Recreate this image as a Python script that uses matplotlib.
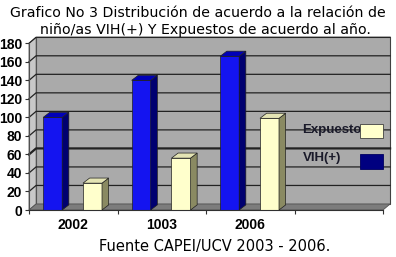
import matplotlib.pyplot as plt
from matplotlib.patches import Polygon, Rectangle

years = ["2002", "1003", "2006"]
vih = [100, 140, 166]
expuestos = [29, 56, 99]
y_ticks = [0, 20, 40, 60, 80, 100, 120, 140, 160, 180]
legend_labels = ["Expuestos", "VIH(+)"]

fig = plt.figure(figsize=(3.96, 2.57), dpi=100)
ax = fig.add_axes([29 / 396, 47 / 257, 354 / 396, 166.7 / 257])
ax.set_xlim(0, 4)
ax.set_ylim(0, 180)
ax.patch.set_visible(False)

# depth of the fake 3d box (data units)
dx, dy = 0.08, 6.5

# back wall, left wall, floor
ax.add_patch(Polygon([(dx, dy), (4 + dx, dy), (4 + dx, 180 + dy), (dx, 180 + dy)],
                     closed=True, facecolor="#aaaaaa", edgecolor="#404040", lw=0.8,
                     clip_on=False, zorder=0))
ax.add_patch(Polygon([(0, 0), (dx, dy), (dx, 180 + dy), (0, 180)],
                     closed=True, facecolor="#c8c8c8", edgecolor="#606060", lw=0.6,
                     clip_on=False, zorder=0.5))
ax.add_patch(Polygon([(0, 0), (4, 0), (4 + dx, dy), (dx, dy)],
                     closed=True, facecolor="#7c7c7c", edgecolor="#505050", lw=0.6,
                     clip_on=False, zorder=0.6))

for y in y_ticks[1:]:
    lw = 1.6 if y == 60 else 0.9
    ax.plot([0, dx, 4 + dx], [y, y + dy, y + dy], color="#222222", lw=lw,
            clip_on=False, zorder=1)

# bars with side and top faces
bw = 0.215
bdx, bdy = 0.075, 5.5
series = [(vih, 0.16, "#1414f0", "#000070", "#0000b8"),
          (expuestos, 0.61, "#ffffcc", "#8a8a62", "#e4e4b4")]
for vals, off, front, side, top in series:
    xs = [i + off for i in range(len(vals))]
    ax.bar(xs, vals, width=bw, align="edge", color=front, edgecolor="#202020",
           lw=0.5, zorder=3)
    for x, v in zip(xs, vals):
        ax.add_patch(Polygon([(x + bw, 0), (x + bw + bdx, bdy), (x + bw + bdx, v + bdy), (x + bw, v)],
                             closed=True, facecolor=side, edgecolor="#202020", lw=0.5,
                             clip_on=False, zorder=3))
        ax.add_patch(Polygon([(x, v), (x + bw, v), (x + bw + bdx, v + bdy), (x + bdx, v + bdy)],
                             closed=True, facecolor=top, edgecolor="#202020", lw=0.5,
                             clip_on=False, zorder=3))

for s in ["top", "right"]:
    ax.spines[s].set_visible(False)
ax.spines["left"].set_color("#505050")
ax.spines["bottom"].set_color("#303030")
ax.spines["left"].set_zorder(4)
ax.spines["bottom"].set_zorder(4)

tick_font = dict(family="Liberation Sans", weight="bold", size=10)
ax.set_yticks(y_ticks)
ax.set_yticklabels([str(v) for v in y_ticks], fontdict=tick_font)
ax.set_xticks([0, 1, 2, 3, 4])
ax.set_xticklabels([])
ax.set_xticks([0.5, 1.5, 2.5], minor=True)
ax.set_xticklabels(years, minor=True, fontdict=tick_font)
ax.tick_params(axis="x", which="minor", length=0, pad=6)
ax.tick_params(axis="both", which="major", length=3, width=0.8, color="#303030", pad=2)

# manual legend (text left aligned, boxes on top of text)
leg_font = dict(family="Liberation Sans", weight="bold", size=9.5, color="#1a1a2a")
ax.text(0.771, 0.482, legend_labels[0], transform=ax.transAxes, va="center",
        ha="left", zorder=5, **leg_font)
ax.text(0.774, 0.312, legend_labels[1], transform=ax.transAxes, va="center",
        ha="left", zorder=5, **leg_font)
ax.add_patch(Rectangle((0.935, 0.432), 0.065, 0.084, transform=ax.transAxes,
                       facecolor="#ffffcc", edgecolor="#404040", lw=0.6,
                       clip_on=False, zorder=6))
ax.add_patch(Rectangle((0.935, 0.246), 0.065, 0.09, transform=ax.transAxes,
                       facecolor="#000080", edgecolor="#000060", lw=0.6,
                       clip_on=False, zorder=6))

fig.text(0.5, 1 - 13 / 257, "Grafico No 3 Distribución de acuerdo a la relación de",
         ha="center", va="center", fontsize=10.2, family="DejaVu Sans")
fig.text(0.52, 1 - 30 / 257, "niño/as VIH(+) Y Expuestos de acuerdo al año.",
         ha="center", va="center", fontsize=10.2, family="DejaVu Sans")
fig.text(0.543, 1 - 247 / 257, "Fuente CAPEI/UCV 2003 - 2006.",
         ha="center", va="center", fontsize=10.5, family="DejaVu Sans")

fig.savefig("out.png", dpi=100)
